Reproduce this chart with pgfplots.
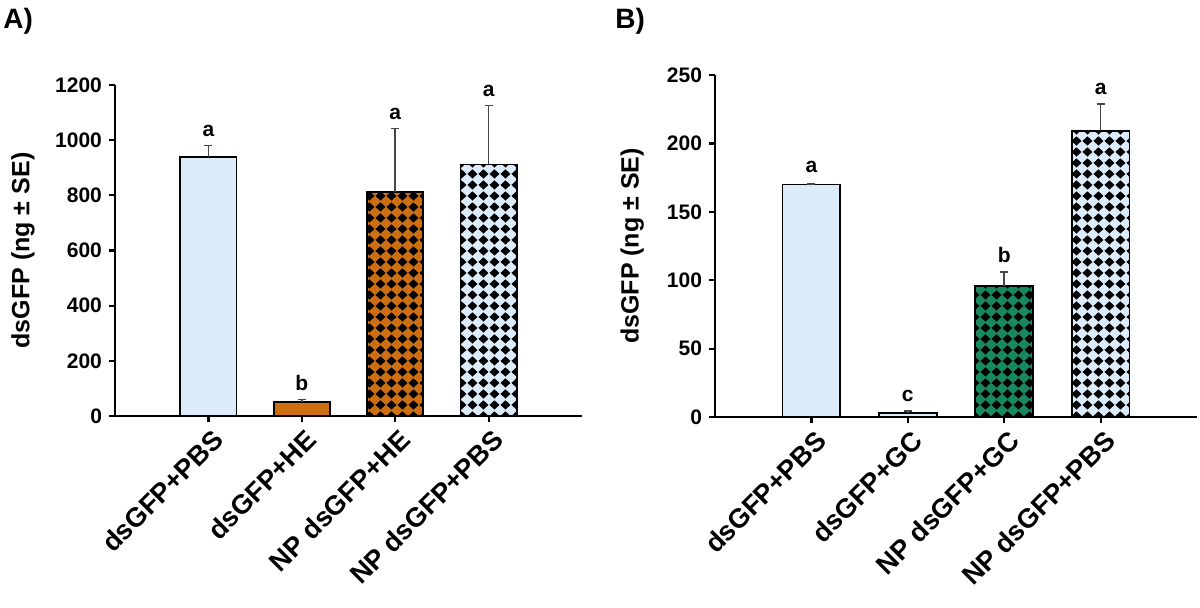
\documentclass[border=0pt]{standalone}
\usepackage{fontspec}
\setmainfont{Liberation Sans}
\usepackage{pgfplots}
\pgfplotsset{compat=1.18}
\usetikzlibrary{patterns}
\definecolor{lblue}{RGB}{220,235,250}
\definecolor{orangeC}{RGB}{204,110,18}
\definecolor{greenC}{RGB}{24,136,96}
\definecolor{errC}{RGB}{70,70,70}
\pgfdeclarepatternformonly{diamonds}{\pgfpointorigin}{\pgfpoint{5.7pt}{5.5pt}}{\pgfpoint{5.7pt}{5.5pt}}{%
  \pgfpathmoveto{\pgfpoint{2.85pt}{0.25pt}}%
  \pgfpathlineto{\pgfpoint{5.45pt}{2.75pt}}%
  \pgfpathlineto{\pgfpoint{2.85pt}{5.25pt}}%
  \pgfpathlineto{\pgfpoint{0.25pt}{2.75pt}}%
  \pgfpathclose\pgfusepath{fill}}
\tikzset{letter/.style={font=\bfseries\fontsize{10.5}{12}\selectfont, anchor=base, yshift=4.5pt}}
\pgfplotsset{
  panel/.style={
    scale only axis, anchor=south west,
    axis x line=bottom, axis y line=left,
    axis line style={-, line width=1.2pt, black},
    tick align=outside, major tick length=3pt,
    every tick/.style={black, line width=1.1pt},
    xmin=-1, xmax=4, ymin=0,
    xtick={0,1,2,3},
    x tick label style={rotate=45, anchor=north east, inner sep=1pt, yshift=-2pt,
      font=\bfseries\fontsize{13.5}{14}\selectfont},
    y tick label style={font=\bfseries\fontsize{10.5}{12}\selectfont},
    /pgf/number format/assume math mode=true,
    /pgf/number format/1000 sep={},
    ylabel={dsGFP (ng ± SE)},
    bar width=0.6,
    clip=false,
  },
  mybar/.style={ybar, bar shift=0pt, draw=black, line width=0.9pt,
    error bars/y dir=plus, error bars/y explicit,
    error bars/error bar style={errC, line width=0.8pt},
    error bars/error mark options={rotate=90, mark size=2pt, errC, line width=0.8pt}},
}
\begin{document}
\begin{tikzpicture}
\useasboundingbox (0,0) rectangle (600pt,303.5pt);
\node[anchor=north west, inner sep=0pt, font=\bfseries\fontsize{14}{16}\selectfont] at (1.5pt,299.5pt) {A)};
\node[anchor=north west, inner sep=0pt, font=\bfseries\fontsize{14}{16}\selectfont] at (307.5pt,299.5pt) {B)};
\begin{axis}[panel, at={(57.5pt,95.5pt)}, width=233.5pt, height=165.5pt,
  ymax=1200, ytick={0,200,...,1200},
  xticklabels={dsGFP+PBS, dsGFP+HE, NP dsGFP+HE, NP dsGFP+PBS},
  every axis y label/.style={at={(axis description cs:-0.197,0.5)}, rotate=90, anchor=center,
    font=\bfseries\fontsize{12.5}{14}\selectfont}]
\addplot[mybar, fill=lblue] coordinates {(0,940) +- (0,40)};
\addplot[mybar, fill=orangeC] coordinates {(1,52) +- (0,8)};
\addplot[mybar, fill=orangeC, postaction={pattern=diamonds}] coordinates {(2,811) +- (0,232)};
\addplot[mybar, fill=lblue, postaction={pattern=diamonds}] coordinates {(3,912) +- (0,213)};
\node[letter] at (axis cs:0,980) {a};
\node[letter] at (axis cs:1,60) {b};
\node[letter] at (axis cs:2,1043) {a};
\node[letter] at (axis cs:3,1125) {a};
\end{axis}
\begin{axis}[panel, at={(357.5pt,95pt)}, width=241pt, height=171pt,
  ymax=250, ytick={0,50,...,250},
  xticklabels={dsGFP+PBS, dsGFP+GC, NP dsGFP+GC, NP dsGFP+PBS},
  every axis y label/.style={at={(axis description cs:-0.172,0.5)}, rotate=90, anchor=center,
    font=\bfseries\fontsize{12.5}{14}\selectfont}]
\addplot[mybar, fill=lblue] coordinates {(0,170) +- (0,0.5)};
\addplot[mybar, fill=lblue] coordinates {(1,3) +- (0,1.5)};
\addplot[mybar, fill=greenC, postaction={pattern=diamonds}] coordinates {(2,95.5) +- (0,10.7)};
\addplot[mybar, fill=lblue, postaction={pattern=diamonds}] coordinates {(3,209.3) +- (0,19.7)};
\node[letter] at (axis cs:0,172) {a};
\node[letter] at (axis cs:1,4.5) {c};
\node[letter] at (axis cs:2,106.2) {b};
\node[letter] at (axis cs:3,229) {a};
\end{axis}
\end{tikzpicture}
\end{document}
